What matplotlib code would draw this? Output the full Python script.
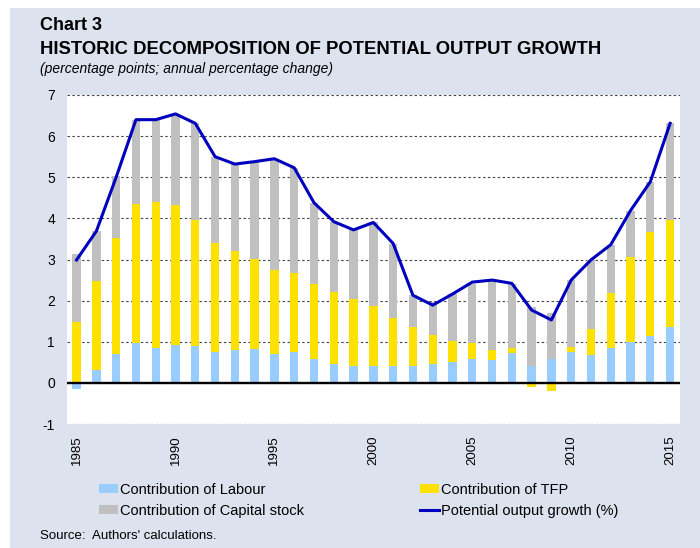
import matplotlib
matplotlib.use("Agg")
import matplotlib.pyplot as plt
from matplotlib.patches import Rectangle
import numpy as np

plt.rcParams['font.family'] = ['Liberation Sans', 'DejaVu Sans']
plt.rcParams['axes.unicode_minus'] = False

years = list(range(1985, 2016))
labour = [-0.16, 0.32, 0.71, 0.97, 0.86, 0.93, 0.90, 0.74, 0.81, 0.83,
          0.71, 0.75, 0.59, 0.47, 0.41, 0.41, 0.41, 0.42, 0.46, 0.51,
          0.58, 0.55, 0.73, 0.42, 0.57, 0.75, 0.67, 0.85, 0.99, 1.14, 1.36]
tfp = [1.49, 2.15, 2.82, 3.39, 3.54, 3.40, 3.06, 2.66, 2.39, 2.19,
       2.04, 1.91, 1.81, 1.74, 1.62, 1.47, 1.16, 0.93, 0.70, 0.50,
       0.39, 0.25, 0.11, -0.10, -0.19, 0.12, 0.64, 1.34, 2.06, 2.54, 2.61]
capital = [1.65, 1.22, 1.50, 2.04, 2.00, 2.19, 2.35, 2.10, 2.12, 2.34,
           2.67, 2.57, 1.98, 1.71, 1.69, 2.02, 1.81, 0.78, 0.81, 1.15,
           1.43, 1.67, 1.56, 1.43, 1.13, 1.63, 1.68, 1.17, 1.14, 1.21, 2.34]
potential = [2.99, 3.69, 5.00, 6.40, 6.40, 6.54, 6.31, 5.50, 5.32, 5.38,
             5.45, 5.23, 4.38, 3.92, 3.72, 3.90, 3.39, 2.13, 1.89, 2.16,
             2.45, 2.50, 2.42, 1.77, 1.53, 2.50, 2.99, 3.36, 4.19, 4.89, 6.31]
tick_years = [1985, 1990, 1995, 2000, 2005, 2010, 2015]

c_lab = '#99CCFF'
c_tfp = '#FFE100'
c_cap = '#C0C0C0'
c_line = '#0000BE'
c_bg = '#DCE2EE'

W, H = 700, 548
fig = plt.figure(figsize=(W / 100, H / 100), dpi=100)
fig.patch.set_facecolor('white')
fig.patches.append(Rectangle((10 / W, 0), 1, (H - 8) / H, transform=fig.transFigure,
                             facecolor=c_bg, edgecolor='none', zorder=-10))

ax = fig.add_axes([66.7 / W, (H - 424) / H, (680 - 66.7) / W, (424 - 95) / H])
ax.set_facecolor('white')

x = np.arange(len(years))
lab = np.array(labour)
tf = np.array(tfp)
cap = np.array(capital)
pos = np.zeros(len(x))
neg = np.zeros(len(x))
handles = []
for vals, col, lbl in [(lab, c_lab, 'Contribution of Labour'),
                       (tf, c_tfp, 'Contribution of TFP'),
                       (cap, c_cap, 'Contribution of Capital stock')]:
    bottom = np.where(vals >= 0, pos, neg)
    b = ax.bar(x, vals, width=0.42, bottom=bottom, color=col, label=lbl, zorder=2)
    handles.append(b)
    pos = pos + np.where(vals >= 0, vals, 0)
    neg = neg + np.where(vals < 0, vals, 0)

ln, = ax.plot(x, potential, color=c_line, lw=2.2, zorder=4,
              label='Potential output growth (%)')

ax.set_xlim(-0.5, len(x) - 0.5)
ax.set_ylim(-1, 7)
ax.set_yticks(range(-1, 8))
ax.set_xticks([years.index(y) for y in tick_years])
ax.set_xticklabels([str(y) for y in tick_years], rotation=90, fontsize=9.5)
ax.tick_params(axis='y', length=0, labelsize=10, pad=8.5)
ax.tick_params(axis='x', length=0, pad=8)
for s in ax.spines.values():
    s.set_visible(False)
ax.yaxis.grid(True, linestyle=(0, (2.2, 2.2)), color='#444444', lw=0.8, zorder=0)
ax.set_axisbelow(True)
ax.axhline(0, color='black', lw=1.7, zorder=3)

leg_kw = dict(frameon=False, fontsize=10.5, handlelength=1.3, handleheight=0.55,
              handletextpad=0.15, borderpad=0, borderaxespad=0, labelspacing=0.45,
              loc='upper left')
l1 = fig.legend([handles[0], handles[2]], ['Contribution of Labour', 'Contribution of Capital stock'],
                bbox_to_anchor=(99 / W, 1 - 483 / H), **leg_kw)
l2 = fig.legend([handles[1], ln], ['Contribution of TFP', 'Potential output growth (%)'],
                bbox_to_anchor=(420 / W, 1 - 483 / H), **leg_kw)

fig.text(40 / W, 1 - 539 / H, "Source:  Authors' calculations.", fontsize=9.5, va='baseline')
fig.text(40 / W, 1 - 30 / H, "Chart 3", fontsize=13, fontweight='bold', va='baseline')
fig.text(40 / W, 1 - 54 / H, "HISTORIC DECOMPOSITION OF POTENTIAL OUTPUT GROWTH",
         fontsize=13.3, fontweight='bold', va='baseline')
fig.text(40 / W, 1 - 73 / H, "(percentage points; annual percentage change)",
         fontsize=10, style='italic', va='baseline')

fig.savefig('out.png', dpi=100, facecolor=fig.get_facecolor())
